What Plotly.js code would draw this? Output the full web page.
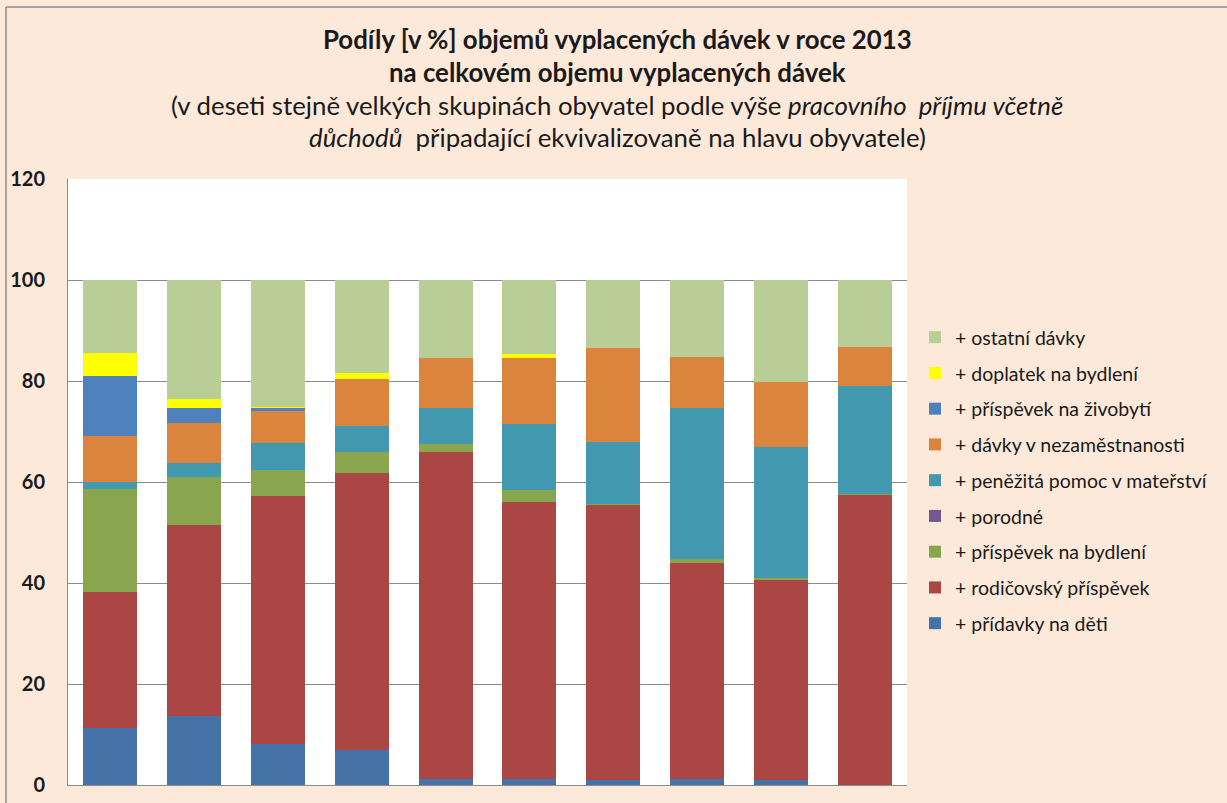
<!DOCTYPE html>
<html>
<head>
<meta charset="utf-8">
<script src="https://cdn.plot.ly/plotly-3.0.1.min.js"></script>
<style>
  html, body { margin: 0; padding: 0; background: #FDE9D9; }
  #chart { width: 1227px; height: 803px; }
</style>
</head>
<body>
<div id="chart"></div>
<script>
// Ten income deciles (no labels shown on the x axis)
const groups = ['1', '2', '3', '4', '5', '6', '7', '8', '9', '10'];

// Shares [%] per benefit, bottom to top of each stack
const pridavkyNaDeti      = [11.3, 13.7,  8.1,  6.9,  1.2,  1.2,  1.0,  1.2,  0.9,  0.1];
const rodicovskyPrispevek = [26.9, 37.8, 49.1, 54.9, 64.8, 54.9, 54.5, 42.8, 39.7, 57.3];
const prispevekNaBydleni  = [20.4,  9.5,  5.2,  4.1,  1.5,  2.3,  0.1,  0.8,  0.3,  0.2];
const porodne             = [ 0.0,  0.0,  0.0,  0.0,  0.0,  0.0,  0.0,  0.0,  0.0,  0.0];
const penezitaPomoc       = [ 1.4,  2.8,  5.4,  5.2,  7.2, 13.0, 12.3, 29.8, 26.1, 21.5];
const davkyNezamestnanost = [ 9.1,  7.9,  6.3,  9.2,  9.9, 13.1, 18.6, 10.2, 12.9,  7.6];
const prispevekNaZivobyti = [11.9,  3.0,  0.6,  0.1,  0.0,  0.0,  0.0,  0.0,  0.0,  0.0];
const doplatekNaBydleni   = [ 4.6,  1.8,  0.2,  1.2,  0.0,  0.8,  0.0,  0.0,  0.0,  0.0];
const ostatniDavky        = [14.4, 23.5, 25.1, 18.4, 15.4, 14.7, 13.5, 15.2, 20.1, 13.3];

const series = [
    { name: '+ přídavky na děti',            y: pridavkyNaDeti,      color: '#4572A7' },
    { name: '+ rodičovský příspěvek',        y: rodicovskyPrispevek, color: '#AA4643' },
    { name: '+ příspěvek na bydlení',        y: prispevekNaBydleni,  color: '#89A54E' },
    { name: '+ porodné',                     y: porodne,             color: '#71588F' },
    { name: '+ peněžitá pomoc v mateřství',  y: penezitaPomoc,       color: '#4198AF' },
    { name: '+ dávky v nezaměstnanosti',     y: davkyNezamestnanost, color: '#DB843D' },
    { name: '+ příspěvek na živobytí',       y: prispevekNaZivobyti, color: '#4F81BD' },
    { name: '+ doplatek na bydlení',         y: doplatekNaBydleni,   color: '#FFFF00' },
    { name: '+ ostatní dávky',               y: ostatniDavky,        color: '#B9CD96' }
];

const FONT = 'Lato, "Open Sans", sans-serif';
const TEXT = '#1a1a1a';

// legend lists the top of the stack first, so ranks run backwards
const traces = series.map((s, i) => ({
    type: 'bar',
    x: groups,
    y: s.y,
    name: s.name,
    legendgroup: 'g' + i,
    legendrank: 1000 - i * 10,
    marker: { color: s.color, line: { width: 0 } }
}));

// pixel positions converted to paper coordinates
const plotTop = 179, plotBottom = 785, plotLeft = 68, plotRight = 907;
const py = p => (plotBottom - p) / (plotBottom - plotTop);
const px = p => (p - plotLeft) / (plotRight - plotLeft);

const titleLines = [
    { text: '<b>Podíly [v %] objemů vyplacených dávek v roce 2013</b>', y: 39 },
    { text: '<b>na celkovém objemu vyplacených dávek</b>', y: 72 },
    { text: '(v deseti stejně velkých skupinách obyvatel podle výše <i>pracovního  příjmu včetně</i>', y: 105 },
    { text: '<i>důchodů</i>  připadající ekvivalizovaně na hlavu obyvatele)', y: 137 }
];

const annotations = titleLines.map(l => ({
    xref: 'paper', yref: 'paper',
    x: px(617), y: py(l.y),
    xanchor: 'center', yanchor: 'middle',
    text: l.text,
    showarrow: false,
    font: { family: FONT, size: 25.8, color: TEXT }
}));

const gridGrey = '#8C8C8C';

const layout = {
    width: 1227,
    height: 803,
    barmode: 'stack',
    bargap: 0.356,
    paper_bgcolor: '#FDE9D9',
    plot_bgcolor: '#FFFFFF',
    margin: { l: plotLeft, r: 1227 - plotRight, t: plotTop, b: 803 - plotBottom },
    font: { family: FONT, color: TEXT },
    showlegend: true,
    legend: {
        x: px(915), xanchor: 'left',
        y: py(318), yanchor: 'top',
        traceorder: 'grouped',
        tracegroupgap: 7.4,
        bgcolor: 'rgba(0,0,0,0)',
        font: { family: FONT, size: 19.5, color: TEXT }
    },
    xaxis: {
        type: 'category',
        range: [-0.5, 9.5],
        showticklabels: false,
        ticks: '',
        showgrid: false,
        showline: true,
        linecolor: gridGrey,
        linewidth: 1,
        fixedrange: true
    },
    yaxis: {
        range: [0, 120],
        dtick: 20,
        showgrid: true,
        gridcolor: gridGrey,
        gridwidth: 1,
        zeroline: false,
        showline: true,
        linecolor: gridGrey,
        linewidth: 1,
        ticks: '',
        ticklabelstandoff: 18,
        tickfont: { family: FONT, size: 20, color: TEXT, weight: 'bold' },
        fixedrange: true
    },
    annotations: annotations,
    shapes: [
        // outer frame of the chart area (top and left edges are visible)
        { type: 'line', xref: 'paper', yref: 'paper', x0: px(6), x1: px(1240), y0: py(7), y1: py(7),
          line: { color: '#8C8C8C', width: 1.5 } },
        { type: 'line', xref: 'paper', yref: 'paper', x0: px(6), x1: px(6), y0: py(7), y1: py(810),
          line: { color: '#8C8C8C', width: 1.5 } }
    ]
};

Plotly.newPlot('chart', traces, layout, { displayModeBar: false, staticPlot: true });
</script>
</body>
</html>
